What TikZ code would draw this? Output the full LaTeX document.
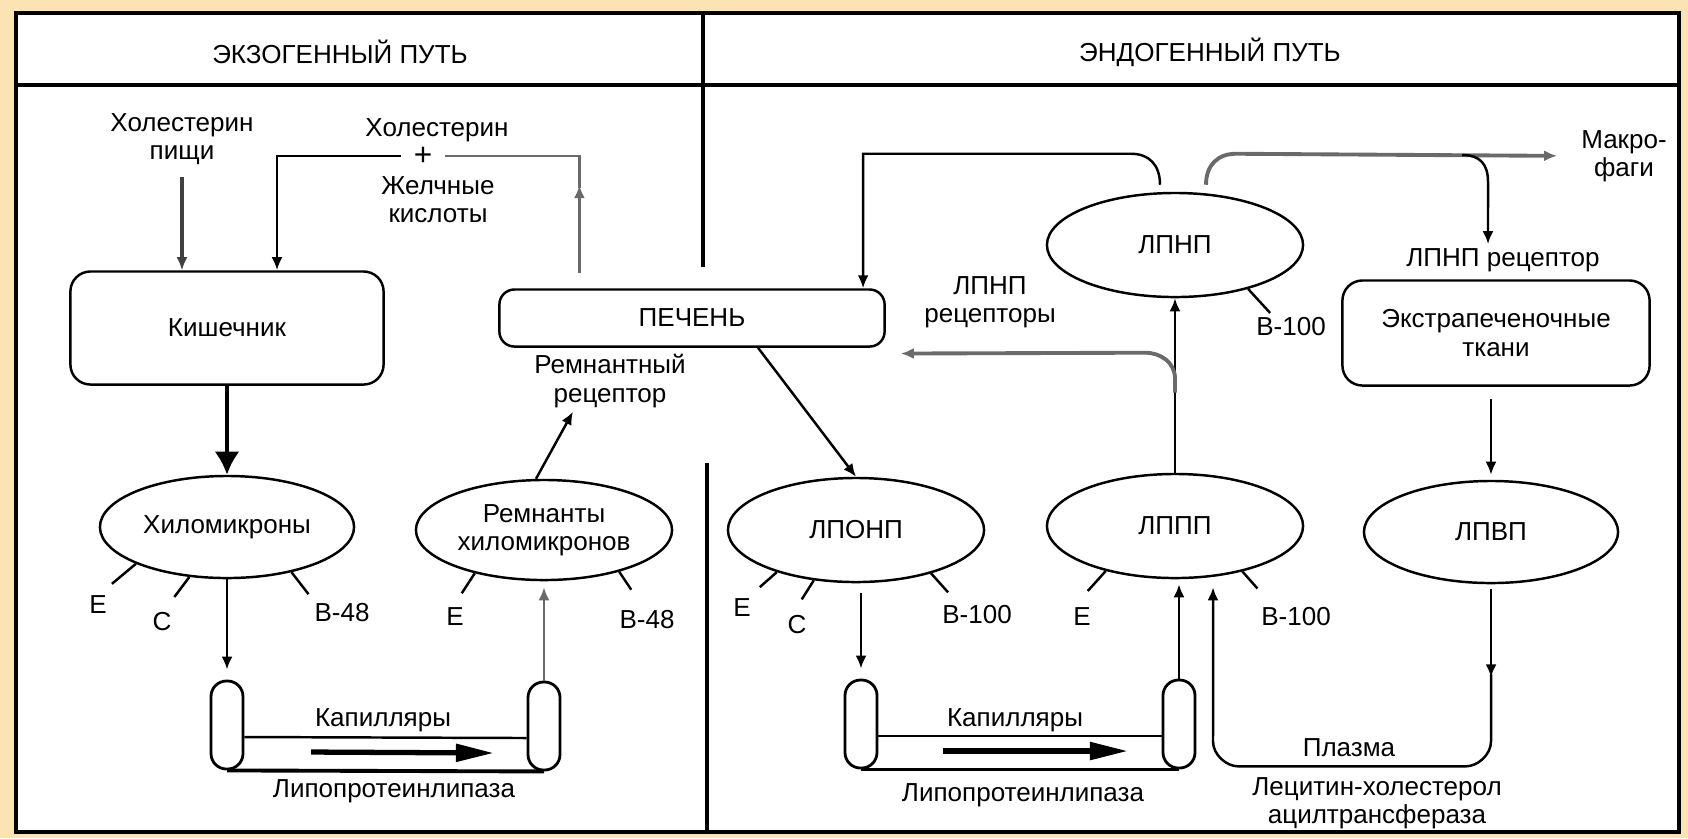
\documentclass[tikz,border=0pt]{standalone}
\usepackage{fontspec}
\setmainfont{Liberation Sans}
\usetikzlibrary{positioning,shapes.geometric,arrows.meta}
\definecolor{slidebg}{HTML}{FBE3B3}
\definecolor{lineGray}{HTML}{6A6A6A}

\begin{document}
\begin{tikzpicture}[
    x=0.01cm, y=-0.01cm,
    every node/.style = {font=\fontsize{7.4}{8}\selectfont},
    organ/.style = {
      draw,
      rounded corners=0.2cm,
      line width=0.7pt,
      align=center,
      inner sep=0pt
    },
    lipo/.style = {
      draw,
      ellipse,
      line width=0.7pt,
      align=center,
      inner sep=0pt
    },
    capil/.style = {
      draw,
      rounded corners=0.155cm,
      minimum width=0.32cm,
      minimum height=0.88cm,
      inner sep=0pt,
      line width=0.8pt
    },
    lbl/.style = {align=center, inner sep=1pt},
    arrow/.style = {-{Latex[length=0.13cm,width=0.11cm]}, line width=0.7pt},
    grayarrow/.style = {arrow, draw=lineGray, line width=1.1pt},
    fatarrow/.style = {-{Triangle[length=0.38cm,width=0.17cm]}, line width=1.5pt},
    apo/.style = {line width=0.7pt},
    frame/.style = {line width=1.4pt}
  ]
\fill[slidebg] (0,0) rectangle (1688,838);
\useasboundingbox (0,0) rectangle (1688,838);
\filldraw[fill=white, frame] (16,13) rectangle (1679,832);
\draw[frame] (16,85) -- (1679,85);
\draw[frame] (703,13) -- (703,267);
\draw[frame] (707,463) -- (707,832);

\node[lbl] (exo) at (340,52) {ЭКЗОГЕННЫЙ ПУТЬ};
\node[lbl] (endo) at (1210,52) {ЭНДОГЕННЫЙ ПУТЬ};

% organs
\node[organ, minimum width=3.13cm, minimum height=1.13cm] (kish) at (227,328) {Кишечник};
\node[organ, minimum width=3.85cm, minimum height=0.57cm, rounded corners=0.15cm] (pechen) at (692,318) {ПЕЧЕНЬ};
\node[organ, minimum width=3.07cm, minimum height=1.05cm] (ekstra) at (1496,333) {Экстрапеченочные\\ткани};

% lipoproteins
\node[lipo, minimum width=2.54cm, minimum height=1.02cm] (hilo) at (227,527) {Хиломикроны};
\node[lipo, minimum width=2.56cm, minimum height=1.0cm] (remn) at (544,530) {Ремнанты\\хиломикронов};
\node[lipo, minimum width=2.56cm, minimum height=1.04cm] (lponp) at (856,530) {ЛПОНП};
\node[lipo, minimum width=2.56cm, minimum height=1.04cm] (lppp) at (1175,526) {ЛППП};
\node[lipo, minimum width=2.56cm, minimum height=1.04cm] (lpnp) at (1175,245) {ЛПНП};
\node[lipo, minimum width=2.54cm, minimum height=1.02cm] (lpvp) at (1491,532) {ЛПВП};

% capillaries
\node[capil] (cap1) at (227,725) {};
\node[capil] (cap2) at (544,726) {};
\node[capil] (cap3) at (861,724) {};
\node[capil] (cap4) at (1179,724) {};

% labels
\node[lbl] (pishi) at (182,139) {Холестерин\\пищи};
\node[lbl] (hol) at (437,130) {Холестерин};
\node[lbl, inner xsep=0.12cm, font=\fontsize{9}{9}\selectfont] (plus) at (423,156) {+};
\node[lbl] (zhelch) at (438,200) {Желчные\\кислоты};
\node[lbl] (remrec) at (610,381) {Ремнантный\\рецептор};
\node[lbl] (lpnprecs) at (990,302) {ЛПНП\\рецепторы};
\node[lbl] (makro) at (1624,156) {Макро-\\фаги};
\node[lbl] (lpnprec) at (1503,260) {ЛПНП рецептор};
\node[lbl] (kap1) at (383,720) {Капилляры};
\node[lbl] (lipase1) at (394,791) {Липопротеинлипаза};
\node[lbl] (kap2) at (1015,720) {Капилляры};
\node[lbl] (lipase2) at (1023,795) {Липопротеинлипаза};
\node[lbl] (plazma) at (1349,748) {Плазма};
\node[lbl] (lcat) at (1377,803) {Лецитин-холестерол\\ацилтрансфераза};

% apoproteins
\node[lbl] (hiloE) at (98,605) {E};
\node[lbl] (hiloC) at (162,622) {C};
\node[lbl] (hiloB) at (342,613) {B-48};
\node[lbl] (remnE) at (455,617) {E};
\node[lbl] (remnB) at (647,620) {B-48};
\node[lbl] (lponpE) at (742,608) {E};
\node[lbl] (lponpC) at (797,625) {C};
\node[lbl] (lponpB) at (977,615) {B-100};
\node[lbl] (lpppE) at (1082,617) {E};
\node[lbl] (lpppB) at (1296,617) {B-100};
\node[lbl] (lpnpB) at (1291,327) {B-100};

\draw[apo] (hilo.202) -- ++(-24,20);
\draw[apo] (hilo.233) -- ++(-15,20);
\draw[apo] (hilo.325) -- ++(17,22);
\draw[apo] (remn.212) -- ++(-13,20);
\draw[apo] (remn.331) -- ++(12,18);
\draw[apo] (lponp.208) -- ++(-17,15);
\draw[apo] (lponp.230) -- ++(-12,19);
\draw[apo] (lponp.330) -- ++(17,19);
\draw[apo] (lppp.213) -- ++(-18,20);
\draw[apo] (lppp.326) -- ++(15,17);
\draw[apo] (lpnp.329) -- ++(22,24);

% exogenous path
\draw[arrow, draw=black!75, line width=1pt, shorten <=0.08cm] (pishi.south) -- (pishi.south |- kish.north);
\draw[arrow] (plus.west) -| ([xshift=0.5cm]kish.north);
\draw[arrow, draw=lineGray, shorten <=0.15cm] ([xshift=-1.125cm]pechen.north) -- ([xshift=-1.125cm,yshift=1.03cm]pechen.north);
\draw[draw=lineGray, line width=0.7pt] ([xshift=-1.125cm,yshift=1cm]pechen.north) |- (plus.east);
\draw[-{Latex[length=0.23cm,width=0.25cm]}, line width=1.2pt] (kish.south -| hilo.north) -- (hilo.north);
\draw[arrow, shorten >=0.1cm] (hilo.south) -- (hilo.south |- cap1.north);
\draw[arrow, draw=lineGray, shorten >=0.06cm] (cap2.north) -- (cap2.north |- remn.south);
\draw[arrow] ([xshift=-0.08cm]remn.north) -- ([xshift=-0.37cm]remrec.south);

\draw[line width=0.7pt] ([yshift=-0.12cm]cap1.east) -- ([yshift=-0.12cm]cap2.west);
\draw[line width=1.1pt] (cap1.south) -- (cap2.south);
\draw[fatarrow] ([xshift=0.84cm,yshift=-0.27cm]cap1.center) -- ([xshift=-0.5cm,yshift=-0.27cm]cap2.center);

% endogenous path
\draw[arrow] ([xshift=0.66cm]pechen.south) -- (lponp.north);
\draw[arrow, shorten <=0.1cm, shorten >=0.1cm] (cap3.north |- lponp.south) -- (cap3.north);
\draw[arrow, shorten >=0.05cm] (cap4.north) -- (cap4.north |- lppp.south);
\draw[arrow] (lppp.north) -- (lppp.north |- lpnp.south);

\draw[line width=0.7pt] ([yshift=-0.12cm]cap3.east) -- ([yshift=-0.12cm]cap4.west);
\draw[line width=1.1pt] (cap3.south) -- (cap4.south);
\draw[fatarrow] ([xshift=0.82cm,yshift=-0.27cm]cap3.center) -- ([xshift=-0.51cm,yshift=-0.27cm]cap4.center);

\draw[grayarrow] ([yshift=0.8cm]lppp.north) -- ++(0,-14) .. controls +(0,-16) and +(16,0) .. ++(-30,-26) -- ([xshift=0.15cm,yshift=-0.355cm]pechen.east);
\draw[arrow] ([xshift=-0.15cm,yshift=0.07cm]lpnp.north) .. controls +(0,-20) and +(18,0) .. ++(-29,-31) -| ([xshift=1.71cm]pechen.north);
\draw[grayarrow, shorten >=0.2cm] ([xshift=0.31cm,yshift=0.07cm]lpnp.north) .. controls +(0,-20) and +(-18,0) .. ++(30,-31) -- (makro.west);
\coordinate (mfork) at (1462,155);
\draw[arrow] (mfork) .. controls +(18,0) and +(0,-18) .. ++(26,27) -- ([xshift=-0.15cm]lpnprec.north);

\draw[arrow, shorten <=0.12cm, shorten >=0.05cm] (lpvp.north |- ekstra.south) -- (lpvp.north);
\draw[arrow, shorten <=0.05cm] (lpvp.south) -- ([yshift=-0.93cm]lpvp.south);
\draw[arrow, shorten >=0.08cm] ([yshift=-0.9cm]lpvp.south) -- ++(0,67) .. controls +(0,14) and +(11,0) .. ++(-25,25) -- ++(-228,0) .. controls +(-11,0) and +(0,14) .. ++(-25,-25) -- ([xshift=0.38cm]lppp.south);
\end{tikzpicture}
\end{document}
